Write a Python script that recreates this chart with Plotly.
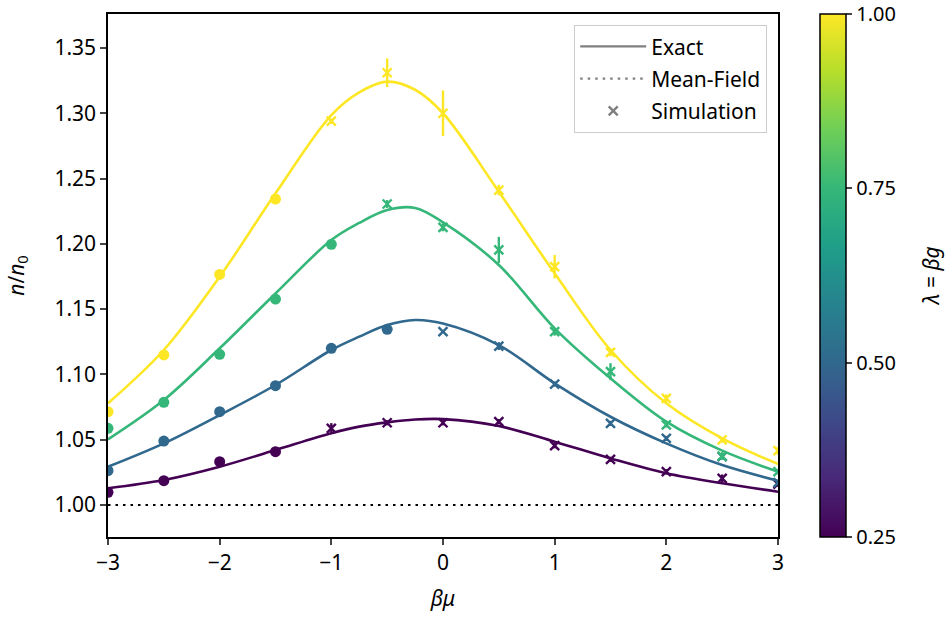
import plotly.graph_objects as go

# ---- data ----
lambdas = [0.25, 0.50, 0.75, 1.00]
colors = ["#440154", "#31688e", "#35b779", "#fde725"]

exact_mu = [-3, -2.5, -2, -1.5, -1, -0.75, -0.5, -0.25, 0, 0.5, 1, 1.5, 2, 2.5, 3]
exact_025 = [1.0128, 1.0191, 1.0293, 1.0421, 1.0549, 1.0600, 1.0633, 1.0655, 1.0658, 1.0605, 1.0485, 1.0357, 1.0243, 1.0166, 1.0102]
exact_050 = [1.0293, 1.0472, 1.0689, 1.0919, 1.1187, 1.1289, 1.1378, 1.1417, 1.1390, 1.1225, 1.0932, 1.0676, 1.0472, 1.0306, 1.0186]
exact_075 = [1.0503, 1.0804, 1.1200, 1.1620, 1.2029, 1.2160, 1.2259, 1.2275, 1.2165, 1.1838, 1.1353, 1.0970, 1.0638, 1.0416, 1.0255]
exact_100 = [1.0779, 1.1187, 1.1748, 1.2387, 1.2986, 1.3160, 1.3242, 1.3180, 1.3000, 1.2399, 1.1774, 1.1187, 1.0779, 1.0510, 1.0314]

sim_mu = [-3, -2.5, -2, -1.5, -1, -0.5, 0, 0.5, 1, 1.5, 2, 2.5, 3]
sim_025 = [1.0097, 1.0186, 1.0332, 1.0408, 1.0587, 1.0630, 1.0630, 1.0638, 1.0454, 1.0350, 1.0255, 1.0204, 1.0160]
err_025 = [0, 0, 0, 0, 0.004, 0.002, 0.002, 0.002, 0.002, 0.002, 0.002, 0.003, 0.002]
sim_050 = [1.0263, 1.0490, 1.0715, 1.0914, 1.1200, 1.1345, 1.1327, 1.1217, 1.0926, 1.0625, 1.0510, 1.0370, 1.0171]
err_050 = [0, 0, 0, 0, 0, 0, 0.001, 0.003, 0.002, 0.002, 0.002, 0.002, 0.002]
sim_075 = [1.0587, 1.0786, 1.1154, 1.1577, 1.1996, 1.2305, 1.2126, 1.1953, 1.1327, 1.1021, 1.0613, 1.0375, 1.0255]
err_075 = [0, 0, 0, 0, 0, 0.003, 0.003, 0.010, 0.003, 0.0065, 0.002, 0.003, 0.002]
sim_100 = [1.0715, 1.1149, 1.1766, 1.2343, 1.2940, 1.3310, 1.3000, 1.2412, 1.1825, 1.1169, 1.0817, 1.0498, 1.0416]
err_100 = [0, 0, 0, 0, 0.002, 0.011, 0.0175, 0.004, 0.009, 0.003, 0.003, 0.002, 0.003]
# number of leading points drawn as filled circles (rest are crosses)
n_circle = [4, 6, 5, 4]

mean_field_mu = [-3, 3]
mean_field = [1.0, 1.0]

colorbar_ticks = [0.25, 0.50, 0.75, 1.00]
colorbar_labels = ["0.25", "0.50", "0.75", "1.00"]

exact_all = [exact_025, exact_050, exact_075, exact_100]
sim_all = [sim_025, sim_050, sim_075, sim_100]
err_all = [err_025, err_050, err_075, err_100]

FONT = "Noto Sans"
FS = 21
fig = go.Figure()

fig.add_trace(go.Scatter(x=mean_field_mu, y=mean_field, mode="lines",
                         line=dict(color="black", width=2.2, dash="2.5px,5px"),
                         showlegend=False, hoverinfo="skip"))

for lam, col, ex, sim, err, nc in zip(lambdas, colors, exact_all, sim_all, err_all, n_circle):
    fig.add_trace(go.Scatter(x=exact_mu, y=ex, mode="lines",
                             line=dict(color=col, width=2.6, shape="spline", smoothing=1.0),
                             showlegend=False))
    fig.add_trace(go.Scatter(x=sim_mu[:nc], y=sim[:nc], mode="markers",
                             marker=dict(symbol="circle", size=11, color=col, line=dict(width=0)),
                             showlegend=False))
    fig.add_trace(go.Scatter(x=sim_mu[nc:], y=sim[nc:], mode="markers",
                             marker=dict(symbol="x-thin", size=9, color=col,
                                         line=dict(width=2.4, color=col)),
                             error_y=dict(type="data", array=err[nc:], visible=True,
                                          width=0, thickness=2.4, color=col),
                             showlegend=False))

# legend entries
fig.add_trace(go.Scatter(x=[None], y=[None], mode="lines", name="Exact",
                         line=dict(color="#808080", width=2.2), legendgroup="a"))
fig.add_trace(go.Scatter(x=[None], y=[None], mode="lines", name="Mean-Field",
                         line=dict(color="#808080", width=2.2, dash="2.5px,5px"), legendgroup="b"))
fig.add_trace(go.Scatter(x=[None], y=[None], mode="markers", name="Simulation",
                         marker=dict(symbol="x-thin", size=9, color="#808080",
                                     line=dict(width=2.4, color="#808080")), legendgroup="c"))

# colorbar
fig.add_trace(go.Scatter(x=[None], y=[None], mode="markers", showlegend=False,
                         marker=dict(color=[0.25], colorscale="Viridis", cmin=0.25, cmax=1.0,
                                     showscale=True,
                                     colorbar=dict(x=(820 - 108) / 670, xanchor="left", xpad=0,
                                                   y=0.5, yanchor="middle", len=1, lenmode="fraction",
                                                   ypad=0, thickness=26, outlinewidth=1.5,
                                                   outlinecolor="black",
                                                   tickvals=colorbar_ticks,
                                                   ticktext=colorbar_labels,
                                                   ticks="outside", ticklen=6, tickwidth=1.5,
                                                   tickfont=dict(size=20, family=FONT, color="black")))))

fig.add_annotation(text="<i>λ</i> = <i>βg</i>", xref="paper", yref="paper",
                   x=(930 - 108) / 670, y=0.5, xanchor="center", yanchor="middle",
                   textangle=-90, showarrow=False, font=dict(size=FS, family=FONT, color="black"))

fig.update_layout(
    width=947, height=621,
    margin=dict(l=108, r=169, t=14, b=84),
    paper_bgcolor="white", plot_bgcolor="white",
    font=dict(family=FONT, size=FS, color="black"),
    legend=dict(x=(767 - 108) / 670, xanchor="right", y=1 - 11 / 523, yanchor="top",
                bordercolor="#cccccc", borderwidth=1.2, bgcolor="rgba(255,255,255,0.8)",
                font=dict(size=FS, family=FONT), tracegroupgap=2, itemwidth=66),
    xaxis=dict(range=[-3, 3], tickvals=[-3, -2, -1, 0, 1, 2, 3], ticks="outside",
               ticklen=6, tickwidth=1.5, showline=True, linecolor="black", linewidth=1.5,
               mirror=True, showgrid=False, zeroline=False,
               title=dict(text="<i>βμ</i>", font=dict(size=FS), standoff=16),
               tickfont=dict(size=FS)),
    yaxis=dict(range=[0.9755, 1.376], tick0=1.0, dtick=0.05, tickformat=".2f", ticks="outside",
               ticklen=6, tickwidth=1.5, showline=True, linecolor="black", linewidth=1.5,
               mirror=True, showgrid=False, zeroline=False,
               title=dict(text="<i>n</i>/<i>n</i><sub>0</sub>", font=dict(size=FS), standoff=24),
               tickfont=dict(size=FS)),
)

fig.write_html("out.html")
